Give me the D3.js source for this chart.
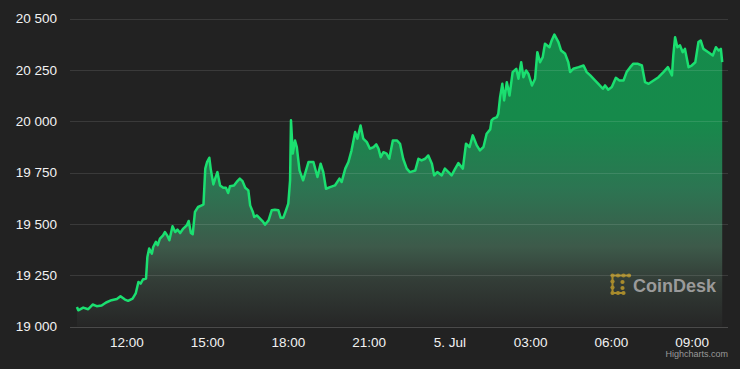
<!DOCTYPE html>
<html><head><meta charset="utf-8">
<script src="https://cdn.jsdelivr.net/npm/d3@7"></script>
<style>html,body{margin:0;padding:0;background:#222222;}svg{display:block;}</style>
</head><body>
<svg id="chart" width="740" height="369"></svg>
<script>
const times = [
"07-04 10:10","07-04 10:13","07-04 10:24","07-04 10:35","07-04 10:45","07-04 10:54","07-04 11:05","07-04 11:15","07-04 11:27","07-04 11:39",
"07-04 11:47","07-04 11:57","07-04 12:04","07-04 12:14","07-04 12:21","07-04 12:27","07-04 12:32","07-04 12:37","07-04 12:44","07-04 12:47",
"07-04 12:51","07-04 12:57","07-04 13:00","07-04 13:06","07-04 13:10","07-04 13:15","07-04 13:22","07-04 13:26","07-04 13:31","07-04 13:36",
"07-04 13:43","07-04 13:49","07-04 13:54","07-04 14:00","07-04 14:07","07-04 14:15","07-04 14:19","07-04 14:24","07-04 14:28","07-04 14:33",
"07-04 14:40","07-04 14:48","07-04 14:52","07-04 14:56","07-04 15:00","07-04 15:05","07-04 15:08","07-04 15:14","07-04 15:18","07-04 15:23",
"07-04 15:29","07-04 15:36","07-04 15:42","07-04 15:47","07-04 15:51","07-04 16:00","07-04 16:06","07-04 16:13","07-04 16:19","07-04 16:25",
"07-04 16:32","07-04 16:36","07-04 16:42","07-04 16:45","07-04 16:51","07-04 16:58","07-04 17:05","07-04 17:09","07-04 17:17","07-04 17:24",
"07-04 17:31","07-04 17:39","07-04 17:44","07-04 17:50","07-04 17:56","07-04 18:01","07-04 18:05","07-04 18:07","07-04 18:11","07-04 18:16",
"07-04 18:20","07-04 18:26","07-04 18:34","07-04 18:46","07-04 18:57","07-04 19:06","07-04 19:13","07-04 19:19","07-04 19:25","07-04 19:34",
"07-04 19:45","07-04 19:55","07-04 20:00","07-04 20:08","07-04 20:15","07-04 20:22","07-04 20:30","07-04 20:35","07-04 20:42","07-04 20:48",
"07-04 20:56","07-04 21:03","07-04 21:11","07-04 21:17","07-04 21:22","07-04 21:27","07-04 21:33","07-04 21:40","07-04 21:46","07-04 21:54",
"07-04 22:03","07-04 22:10","07-04 22:17","07-04 22:25","07-04 22:32","07-04 22:44","07-04 22:51","07-04 22:58","07-04 23:06","07-04 23:13",
"07-04 23:21","07-04 23:26","07-04 23:33","07-04 23:43","07-04 23:50","07-04 23:58","07-05 00:05","07-05 00:13","07-05 00:20","07-05 00:30",
"07-05 00:37","07-05 00:45","07-05 00:52","07-05 01:01","07-05 01:08","07-05 01:16","07-05 01:23","07-05 01:31","07-05 01:34","07-05 01:38",
"07-05 01:46","07-05 01:49","07-05 01:53","07-05 01:58","07-05 02:02","07-05 02:08","07-05 02:14","07-05 02:21","07-05 02:29","07-05 02:34",
"07-05 02:40","07-05 02:45","07-05 02:51","07-05 02:56","07-05 03:04","07-05 03:11","07-05 03:16","07-05 03:22","07-05 03:28","07-05 03:33",
"07-05 03:43","07-05 03:48","07-05 03:54","07-05 04:03","07-05 04:09","07-05 04:18","07-05 04:25","07-05 04:29","07-05 04:36","07-05 04:48",
"07-05 04:59","07-05 05:06","07-05 05:14","07-05 05:25","07-05 05:32","07-05 05:42","07-05 05:47","07-05 05:54","07-05 06:02","07-05 06:11",
"07-05 06:19","07-05 06:28","07-05 06:35","07-05 06:43","07-05 06:50","07-05 06:59","07-05 07:09","07-05 07:16","07-05 07:24","07-05 07:35",
"07-05 07:46","07-05 07:57","07-05 08:07","07-05 08:16","07-05 08:19","07-05 08:23","07-05 08:28","07-05 08:34","07-05 08:40","07-05 08:45",
"07-05 08:53","07-05 09:00","07-05 09:08","07-05 09:15","07-05 09:20","07-05 09:26","07-05 09:37","07-05 09:47","07-05 09:54","07-05 10:00",
"07-05 10:05","07-05 10:08"
];
const prices = [
19095,19079,19092,19084,19107,19099,19102,19117,19128,19134,
19147,19131,19125,19136,19161,19217,19209,19229,19234,19339,
19380,19355,19387,19412,19396,19428,19444,19460,19444,19420,
19488,19460,19472,19455,19477,19493,19514,19455,19449,19558,
19582,19590,19595,19769,19801,19822,19769,19692,19720,19752,
19687,19676,19676,19650,19683,19687,19704,19720,19708,19676,
19663,19590,19558,19533,19541,19525,19509,19496,19517,19566,
19569,19566,19530,19530,19566,19598,19712,20004,19842,19906,
19874,19760,19712,19801,19801,19728,19793,19752,19671,19679,
19687,19720,19704,19769,19801,19858,19947,19915,19979,19915,
19898,19866,19874,19887,19866,19825,19849,19842,19817,19906,
19906,19890,19817,19769,19752,19760,19817,19809,19817,19833,
19793,19736,19752,19736,19769,19752,19736,19769,19796,19769,
19890,19874,19931,19882,19858,19874,19939,19960,20004,20012,
20020,20036,20117,20182,20101,20190,20125,20239,20255,20207,
20287,20214,20247,20231,20174,20207,20336,20287,20312,20377,
20360,20393,20422,20385,20344,20328,20287,20239,20255,20263,
20271,20239,20223,20198,20182,20158,20174,20153,20166,20211,
20198,20198,20239,20263,20280,20280,20271,20190,20182,20198,
20214,20239,20263,20223,20320,20409,20360,20369,20336,20352,
20263,20271,20287,20385,20393,20352,20336,20320,20360,20344,
20352,20287
];
const yTicks = [19000, 19250, 19500, 19750, 20000, 20250, 20500];
const xTickTimes = ["07-04 12:00","07-04 15:00","07-04 18:00","07-04 21:00","07-05 00:00","07-05 03:00","07-05 06:00","07-05 09:00"];
const xTickLabels = ["12:00","15:00","18:00","21:00","5. Jul","03:00","06:00","09:00"];

const parse = d3.timeParse("%Y-%m-%d %H:%M");
const P = s => parse("2022-" + s);
const data = times.map((t, i) => ({t: P(t), v: prices[i]}));

const svg = d3.select("#chart");
const left = 70, right = 728;
const x = d3.scaleTime().domain([P("07-04 12:00"), P("07-05 09:00")]).range([126.3, 691.7]);
const y = d3.scaleLinear().domain([19000, 20500]).range([326.5, 18.5]);

svg.append("rect").attr("width", 740).attr("height", 369).attr("fill", "#222222");

const defs = svg.append("defs");
const g = defs.append("linearGradient").attr("id", "fillGrad")
  .attr("gradientUnits", "userSpaceOnUse")
  .attr("x1", 0).attr("x2", 0).attr("y1", y(20500)).attr("y2", y(19000));
[[0, "#158b4b"], [0.33, "#168a4b"], [0.55, "#2c7552"], [0.74, "#3d5a4a"], [0.85, "#333d37"], [1, "#262626"]]
  .forEach(([o, c]) => g.append("stop").attr("offset", o).attr("stop-color", c));

// area
const area = d3.area().x(d => x(d.t)).y0(y(19000)).y1(d => y(d.v));
svg.append("path").datum(data).attr("d", area).attr("fill", "url(#fillGrad)");

// watermark
const wm = svg.append("g");
const gold = "#a88b2c";
const dots = [[612.5,275.5],[618,275.5],[623.5,275.5],[629,275.5],[612.5,281.5],[612.5,287.5],[612.5,293],[618,293],[623.5,293],[622.5,282],[622.5,288]];
wm.append("path").attr("d", "M612.5,275.5H629M612.5,275.5V293H624").attr("stroke", gold).attr("stroke-width", 2).attr("fill", "none");
wm.selectAll("circle").data(dots).join("circle").attr("cx", d => d[0]).attr("cy", d => d[1]).attr("r", 2.1).attr("fill", gold);
wm.append("text").attr("x", 633).attr("y", 291.5).attr("font-family", "Liberation Sans, Arial, sans-serif")
  .attr("font-weight", "bold").attr("font-size", 18).attr("fill", "#9a9a9a").text("CoinDesk");

// grid lines
const yAxis = svg.append("g").attr("transform", `translate(${left},0)`)
  .call(d3.axisLeft(y).tickValues(yTicks).tickSize(-(right - left)).tickPadding(13)
    .tickFormat(d => d3.format(",")(d).replace(",", "\u00a0")));
yAxis.select(".domain").remove();
yAxis.selectAll(".tick line").attr("stroke", d => d === 19000 ? "#4a4a4a" : "rgba(255,255,255,0.11)").attr("shape-rendering", "crispEdges");
yAxis.selectAll("text").attr("fill", "#f2f2f2").attr("font-size", 13.5)
  .attr("font-family", "Liberation Sans, Arial, sans-serif");

// line
const line = d3.line().x(d => x(d.t)).y(d => y(d.v));
svg.append("path").datum(data).attr("d", line).attr("fill", "none")
  .attr("stroke", "#1bdf70").attr("stroke-width", 2.5).attr("stroke-linejoin", "round");

// x axis
const xAxis = svg.append("g").attr("transform", `translate(0,${y(19000)})`)
  .call(d3.axisBottom(x).tickValues(xTickTimes.map(P)).tickSize(0).tickPadding(10.5)
    .tickFormat((d, i) => xTickLabels[i]));
xAxis.select(".domain").remove();
xAxis.selectAll("text").attr("fill", "#f2f2f2").attr("font-size", 13.5)
  .attr("font-family", "Liberation Sans, Arial, sans-serif");

// credits
svg.append("text").attr("x", 728).attr("y", 357).attr("text-anchor", "end")
  .attr("font-family", "Liberation Sans, Arial, sans-serif").attr("font-size", 9)
  .attr("fill", "#999999").text("Highcharts.com");
</script>
</body></html>
